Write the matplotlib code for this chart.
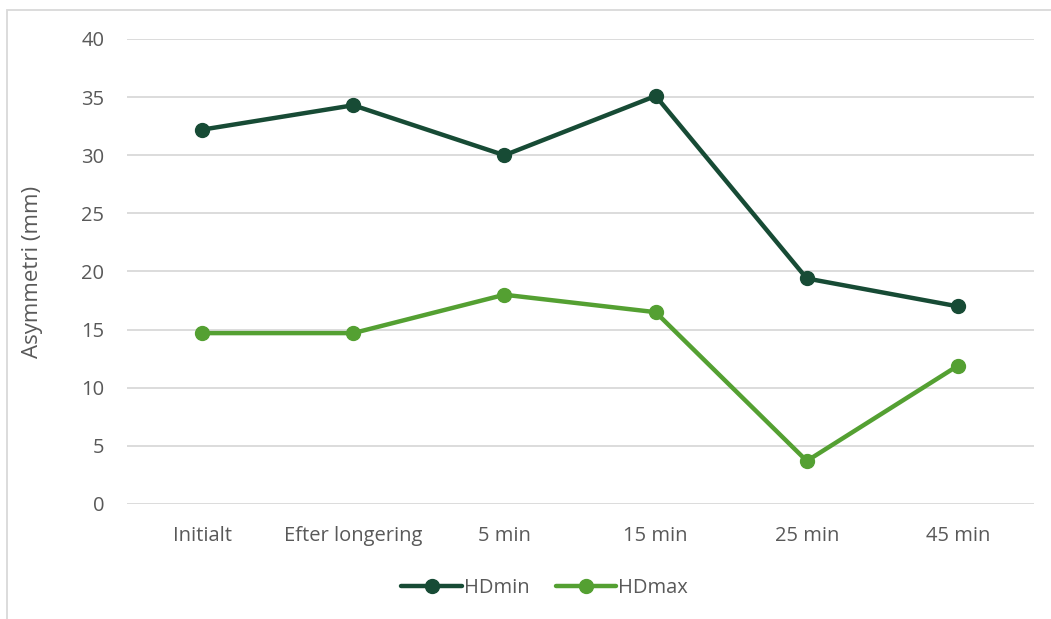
import matplotlib.pyplot as plt
from matplotlib.patches import Rectangle

categories = ["Initialt", "Efter longering", "5 min", "15 min", "25 min", "45 min"]
hd_min = [32.2, 34.3, 30.0, 35.1, 19.4, 17.0]
hd_max = [14.7, 14.7, 18.0, 16.5, 3.7, 11.9]

plt.rcParams['font.family'] = ['Open Sans', 'DejaVu Sans']
text_color = "#595959"

fig = plt.figure(figsize=(10.51, 6.19), dpi=100)
ax = fig.add_axes([0.1204, 0.1858, 0.8630, 0.7512])

x = list(range(len(categories)))
ax.plot(x, hd_min, color="#174B35", lw=3.2, marker="o", ms=10, label="HDmin",
        solid_capstyle="round")
ax.plot(x, hd_max, color="#54A032", lw=3.2, marker="o", ms=10, label="HDmax",
        solid_capstyle="round")

ax.set_xlim(-0.5, len(categories) - 0.5)
ax.set_ylim(0, 40)
ax.set_yticks(range(0, 41, 5))
ax.set_xticks(x)
ax.set_xticklabels(categories)
ax.grid(axis="y", color="#D9D9D9", lw=1.3)
ax.set_axisbelow(True)
for s in ax.spines.values():
    s.set_visible(False)
ax.tick_params(length=0, labelsize=14.5, colors=text_color)
ax.tick_params(axis="y", pad=16)
ax.tick_params(axis="x", pad=16)
ax.set_ylabel("Asymmetri (mm)", fontsize=16, color=text_color)
ax.yaxis.set_label_coords(-0.092, 0.5)

ax.legend(loc="center", bbox_to_anchor=(0.461, -0.18), ncol=2, frameon=False,
          fontsize=14.5, labelcolor=text_color, handlelength=3.0,
          handletextpad=0.1, columnspacing=1.3)

fig.patches.append(Rectangle((7 / 1051, -0.05), 1.1, 1 - 10 / 619 + 0.05,
                             transform=fig.transFigure, fill=False,
                             edgecolor="#D9D9D9", lw=1.3))

fig.savefig("out.png", dpi=100)
